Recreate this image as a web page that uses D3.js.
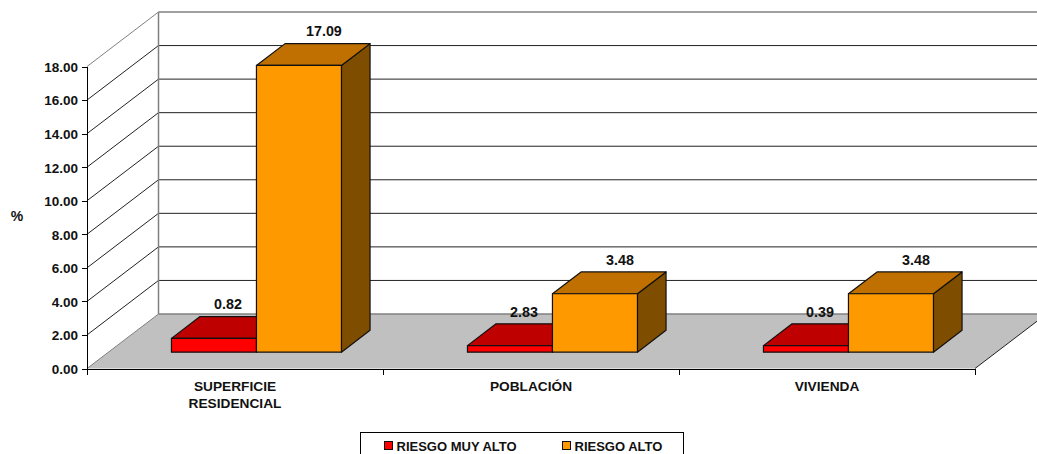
<html><head>
<title>Riesgo</title>
<script src="https://d3js.org/d3.v7.min.js"></script>
<style>
  body { margin: 0; background: #fff; overflow: hidden; }
  svg { display: block; }
  text { font-family: "Liberation Sans", Arial, sans-serif; font-weight: bold; fill: #111; }
  .axis text { font-size: 13.5px; }
  .axis line, .axis .domain { stroke: #000; shape-rendering: crispEdges; }
  .wall { stroke: #222; fill: none; }
  .back { stroke: #808080; fill: none; stroke-width: 1.5; }
</style>
</head>
<body>
<svg id="chart" width="1037" height="454"></svg>
<script>
// data
const categories = ["SUPERFICIE RESIDENCIAL", "POBLACIÓN", "VIVIENDA"];
const seriesNames = ["RIESGO MUY ALTO", "RIESGO ALTO"];
const muyAlto = [0.82, 0.39, 0.39];       // height of the red bars as drawn
const alto = [17.09, 3.48, 3.48];
const muyAltoLabels = ["0.82", "2.83", "0.39"];   // labels as printed (2.83 does not match its bar)
const altoLabels = ["17.09", "3.48", "3.48"];
const yTicks = [0, 2, 4, 6, 8, 10, 12, 14, 16, 18];

const svg = d3.select("svg#chart");

const colors = [
  {front: "#ff0000", top: "#bf0000", side: "#800000"},
  {front: "#ff9900", top: "#bf7000", side: "#7f4d00"}
];

// scales
const y = d3.scaleLinear().domain([0, 18]).range([368.5, 66.5]);
const x = d3.scaleBand().domain(categories).range([87, 975]);
const xSeries = d3.scaleBand().domain(seriesNames).range([63, 233]);
const xEdges = d3.scaleLinear().domain([0, 3]).range([87, 975]);

// fake 3d: z=0 is the front of the floor, z=1 the back wall
const depthX = 71.5, depthY = 54.5;
const project = (px, value, z) => [px + depthX * z, y(value) - depthY * z];
const polyPoints = pts => pts.map(p => p.join(",")).join(" ");

// floor
svg.append("polygon")
   .attr("points", polyPoints([project(87, 0, 0), project(975, 0, 0), project(975, 0, 1), project(1100, 0, 1), project(87, 0, 1)]))
   .attr("fill", "#c0c0c0");

// floor edges
const right0 = project(975, 0, 0), right1 = project(975, 0, 1);
svg.append("line").attr("x1", right0[0]).attr("y1", right0[1]).attr("x2", right1[0]).attr("y2", right1[1])
   .attr("stroke", "#222");
const left0 = project(87, 0, 0), left1 = project(87, 0, 1);
svg.append("line").attr("x1", left0[0]).attr("y1", left0[1]).attr("x2", left1[0]).attr("y2", left1[1])
   .attr("stroke", "#808080");

// gridlines on the two walls
yTicks.forEach(v => {
  const a = project(87, v, 0), b = project(87, v, 1);
  if (v > 0 && v < 18) {
    svg.append("line").attr("class", "wall").attr("x1", a[0]).attr("y1", a[1]).attr("x2", b[0]).attr("y2", b[1]);
  }
  if (v === 18) {
    svg.append("line").attr("stroke", "#808080").attr("x1", a[0]).attr("y1", a[1]).attr("x2", b[0]).attr("y2", b[1]);
  }
  svg.append("line").attr("class", v === 18 || v === 0 ? "back" : "wall")
     .attr("x1", b[0]).attr("y1", b[1]).attr("x2", 1037).attr("y2", b[1]);
});
const wallTop = project(87, 18, 1), wallBottom = project(87, 0, 1);
svg.append("line").attr("class", "back").attr("stroke-width", 1)
   .attr("x1", wallTop[0]).attr("y1", wallTop[1]).attr("x2", wallBottom[0]).attr("y2", wallBottom[1]);

// bars, red first so the orange one covers it
const z0 = 0.3, z1 = 0.7;
[muyAlto, alto].forEach((values, s) => {
  values.forEach((v, i) => {
    const xa = x(categories[i]) + xSeries(seriesNames[s]);
    const xb = xa + xSeries.bandwidth();
    const bar = svg.append("g").attr("stroke", "#111").attr("stroke-width", 1.2).attr("stroke-linejoin", "round");
    bar.append("polygon").attr("fill", colors[s].side)
       .attr("points", polyPoints([project(xb, 0, z0), project(xb, 0, z1), project(xb, v, z1), project(xb, v, z0)]));
    bar.append("polygon").attr("fill", colors[s].top)
       .attr("points", polyPoints([project(xa, v, z0), project(xb, v, z0), project(xb, v, z1), project(xa, v, z1)]));
    bar.append("polygon").attr("fill", colors[s].front)
       .attr("points", polyPoints([project(xa, 0, z0), project(xb, 0, z0), project(xb, v, z0), project(xa, v, z0)]));
  });
});

// value labels
[muyAltoLabels, altoLabels].forEach((labels, s) => {
  const values = s === 0 ? muyAlto : alto;
  labels.forEach((t, i) => {
    const xa = x(categories[i]) + xSeries(seriesNames[s]);
    const p = project(xa + xSeries.bandwidth() / 2, values[i], z0);
    svg.append("text")
       .attr("x", p[0] + (s === 0 ? 14 : 25))
       .attr("y", p[1] - 29)
       .attr("text-anchor", "middle")
       .style("font-size", "14.3px")
       .text(t);
  });
});

// y axis
const yAxis = svg.append("g")
   .attr("class", "axis")
   .attr("transform", "translate(87,0)")
   .call(d3.axisLeft(y).tickValues(yTicks).tickSize(5).tickPadding(4).tickSizeOuter(0).tickFormat(d3.format(".2f")));
yAxis.selectAll(".tick text").attr("dy", "0.36em");

// x axis line and ticks on the band edges
svg.append("g")
   .attr("class", "axis")
   .attr("transform", "translate(0,368.5)")
   .call(d3.axisBottom(xEdges).tickValues([0, 1, 2, 3]).tickSize(6).tickSizeOuter(0).tickFormat(""));

// category labels, the long one wraps
const xLabels = svg.append("g")
   .attr("class", "axis")
   .attr("transform", "translate(0,368.5)")
   .call(d3.axisBottom(x).tickSize(0));
xLabels.select(".domain").remove();
xLabels.selectAll(".tick text").style("font-size", "13.7px").each(function(d) {
  const t = d3.select(this).text(null).attr("y", 0).attr("dy", null);
  d.split(" ").forEach((word, i) => {
    t.append("tspan").attr("x", 0).attr("y", 22 + i * 17).text(word);
  });
});

// % title
svg.append("text").attr("x", 17).attr("y", 221).attr("text-anchor", "middle")
   .style("font-size", "14px").text("%");

// legend, cut by the bottom of the picture like the original
svg.append("rect").attr("x", 360.5).attr("y", 432.5).attr("width", 323).attr("height", 40)
   .attr("fill", "#fff").attr("stroke", "#000");
const legendX = [384.5, 562.5];
seriesNames.forEach((name, s) => {
  svg.append("rect").attr("x", legendX[s]).attr("y", 441.5).attr("width", 8).attr("height", 8)
     .attr("fill", colors[s].front).attr("stroke", "#111");
  svg.append("text").attr("x", legendX[s] + 12).attr("y", 451)
     .style("font-size", "13px").text(name);
});
</script>
</body>
</html>
